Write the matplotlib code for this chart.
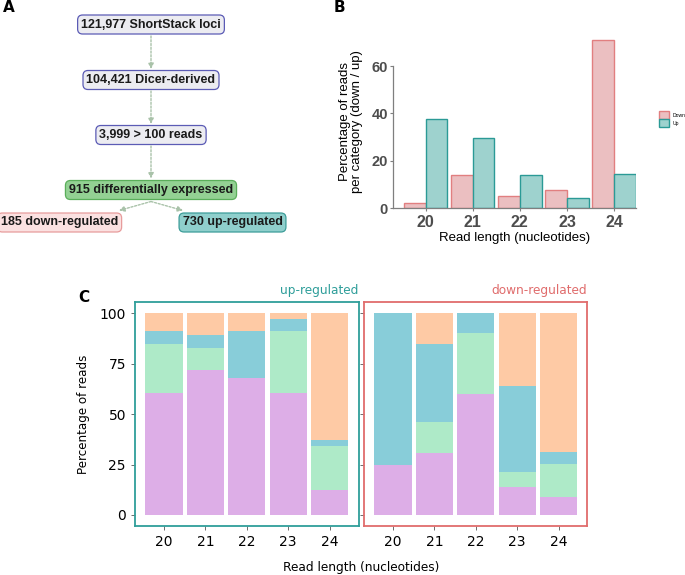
import numpy as np
import matplotlib
matplotlib.use("Agg")
import matplotlib.pyplot as plt

# ---- data ----
lengths = ["20", "21", "22", "23", "24"]

# panel A flowchart labels
flow_labels = ["121,977 ShortStack loci", "104,421 Dicer-derived", "3,999 > 100 reads",
               "915 differentially expressed", "185 down-regulated", "730 up-regulated"]

# panel B: percentage of reads per category
pct_down = [2.1, 14.0, 5.3, 7.6, 70.8]
pct_up = [37.5, 29.6, 14.0, 4.4, 14.5]

# panel C: stacked composition (bottom -> top: purple, green, blue, orange)
up_purple = [60.3, 71.9, 68.1, 60.7, 12.4]
up_green = [24.5, 10.9, 0.0, 30.4, 21.8]
up_blue = [6.3, 6.5, 23.1, 6.1, 3.0]
up_orange = [8.9, 10.7, 8.8, 2.8, 62.8]

down_purple = [24.8, 30.7, 60.0, 14.0, 8.9]
down_green = [0.0, 15.4, 30.1, 7.3, 16.4]
down_blue = [75.2, 38.7, 9.9, 42.8, 5.9]
down_orange = [0.0, 15.2, 0.0, 35.9, 68.8]

W, H = 685, 575
fig = plt.figure(figsize=(W / 100, H / 100), dpi=100)

# ---- panel A: flowchart drawn in pixel coords ----
ax0 = fig.add_axes([0, 0, 1, 1])
ax0.set_xlim(0, W)
ax0.set_ylim(H, 0)
ax0.axis("off")

centers = [(151, 24.5), (151, 80), (151, 135), (151, 190), (59.5, 222.5), (232.5, 222.5)]
faces = ["#ececf1", "#ececf1", "#ececf1", "#93d193", "#fbe1e1", "#8fcfcc"]
edges = ["#5b5bb5", "#5b5bb5", "#5b5bb5", "#5aae5a", "#e79c9c", "#3d9d99"]
for lab, (cx, cy), fc, ec in zip(flow_labels, centers, faces, edges):
    ax0.text(cx, cy, lab, ha="center", va="center", fontsize=9, fontweight="bold",
             family="Liberation Sans", color="#1a1a1a",
             bbox=dict(boxstyle="round,pad=0.28,rounding_size=0.4", fc=fc, ec=ec, lw=0.9))

arrow_kw = dict(arrowstyle="-|>", color="#a9c2a9", lw=1.0, linestyle=(0, (1.5, 1.2)),
                mutation_scale=8, shrinkA=0, shrinkB=0)
for y0, y1 in [(36, 69), (91, 124), (146, 178.5)]:
    ax0.annotate("", xy=(151, y1), xytext=(151, y0), arrowprops=arrow_kw)
ax0.annotate("", xy=(119, 210.5), xytext=(151, 201.5), arrowprops=arrow_kw)
ax0.annotate("", xy=(183, 210.5), xytext=(151, 201.5), arrowprops=arrow_kw)

ax0.text(3, 8, "A", fontsize=11, fontweight="bold", va="center", ha="left")
ax0.text(334, 8, "B", fontsize=11, fontweight="bold", va="center", ha="left")
ax0.text(78, 297, "C", fontsize=11, fontweight="bold", va="center", ha="left")

# ---- panel B ----
axb = fig.add_axes([392.7 / W, 1 - 208.3 / H, 243 / W, 173.1 / H])
x = np.arange(len(lengths))
bw = 0.46
axb.bar(x - bw / 2, pct_down, bw, color="#ebbfc1", edgecolor="#e17f80", lw=1.0, label="Down")
axb.bar(x + bw / 2, pct_up, bw, color="#9ed2ce", edgecolor="#2b9a96", lw=1.0, label="Up")
axb.set_xlim(-0.7, 4.46)
axb.set_ylim(0, 73)
axb.set_yticks([0, 20, 40, 60])
axb.set_xticks(x)
axb.set_xticklabels(lengths)
for s in ["top", "right"]:
    axb.spines[s].set_visible(False)
axb.spines["left"].set_bounds(0, 60)
for s in ["left", "bottom"]:
    axb.spines[s].set_color("#7f7f7f")
    axb.spines[s].set_linewidth(0.9)
axb.tick_params(axis="y", length=2.5, color="#7f7f7f", pad=1)
axb.tick_params(axis="x", length=2.5, color="#7f7f7f", pad=2)
for t in axb.get_yticklabels():
    t.set_fontsize(10.5)
    t.set_fontweight("bold")
    t.set_color("#4d4d4d")
    t.set_family("Liberation Sans")
for t in axb.get_xticklabels():
    t.set_fontsize(11.5)
    t.set_fontweight("bold")
    t.set_color("#4d4d4d")
    t.set_family("Liberation Sans")
axb.set_xlabel("Read length (nucleotides)", fontsize=9.5, family="Liberation Sans", labelpad=2)
axb.set_ylabel("Percentage of reads\nper category (down / up)", fontsize=9.5,
               family="Liberation Sans", labelpad=6, linespacing=1.0)
axb.legend(loc="upper left", bbox_to_anchor=(656 / W, 1 - 109 / H), bbox_transform=fig.transFigure,
           frameon=False, prop=dict(family="Liberation Sans", size=3.6),
           handlelength=2.0, handleheight=2.0, borderpad=0,
           handletextpad=0.8, labelspacing=0.0)

# ---- panel C ----
c_colors = ["#ddaee7", "#aeeac8", "#88cdd9", "#fecaa5"]
panels = [
    (135, [up_purple, up_green, up_blue, up_orange], "up-regulated", "#2f9e9a"),
    (364, [down_purple, down_green, down_blue, down_orange], "down-regulated", "#e06c6c"),
]
for i, (left, stacks, title, ecol) in enumerate(panels):
    ax = fig.add_axes([left / W, 1 - 526 / H, 223.5 / W, 223.7 / H])
    bottom = np.zeros(len(lengths))
    for vals, col in zip(stacks, c_colors):
        ax.bar(x, vals, 0.9, bottom=bottom, color=col, edgecolor="none")
        bottom += np.array(vals)
    ax.set_xlim(-0.7, 4.7)
    ax.set_ylim(-5.5, 105.5)
    ax.set_yticks([0, 25, 50, 75, 100])
    ax.set_xticks(x)
    ax.set_xticklabels(lengths)
    for s in ax.spines.values():
        s.set_color(ecol)
        s.set_linewidth(1.3)
    ax.tick_params(length=3, color="#555555", labelsize=10, width=0.6)
    if i == 1:
        ax.tick_params(axis="y", labelleft=False)
    ax.text(1.0, 1.022, title, transform=ax.transAxes, ha="right", va="bottom",
            color=ecol, fontsize=8.7)

fig.text(0.527, 1 - 567 / H, "Read length (nucleotides)", ha="center", va="center", fontsize=8.7)
fig.text(83 / W, 1 - 414.5 / H, "Percentage of reads", ha="center", va="center",
         rotation=90, fontsize=8.6)

fig.savefig("out.png", dpi=100)
